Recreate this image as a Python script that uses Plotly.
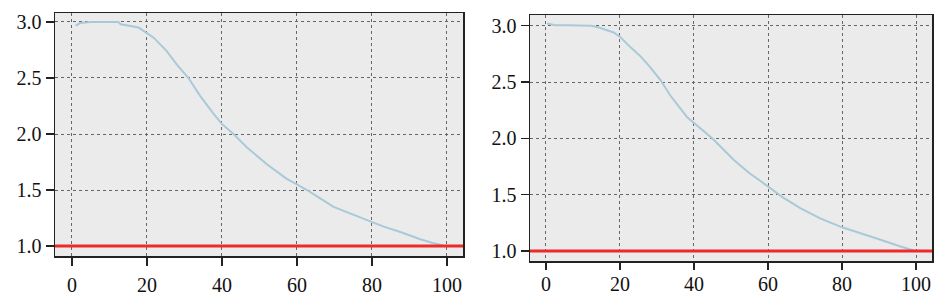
import plotly.graph_objects as go

# ---- data ----
left_x = [1, 2.2, 5, 8, 12.4, 13, 17.8, 20, 21.8, 25.3, 28, 31.1, 34.2, 37.8, 40, 43.1, 46.7,
          52, 57.3, 60, 62.7, 66, 69.8, 75, 79.6, 83, 87.6, 92.9, 96, 99.1]
left_y = [2.967, 2.99, 3.0, 3.0, 3.0, 2.98, 2.95, 2.90, 2.86, 2.74, 2.62, 2.50, 2.34, 2.18, 2.09,
          2.00, 1.88, 1.73, 1.60, 1.55, 1.50, 1.43, 1.35, 1.28, 1.22, 1.175, 1.125, 1.06, 1.03, 1.006]

right_x = [0.3, 2.5, 6, 10, 12.4, 14.7, 18.3, 20.1, 22.8, 25.5, 27.7, 30.9, 33.6, 38.1, 39.9,
           41.7, 44.9, 50.7, 55, 59.7, 63.8, 68.7, 74.1, 80, 86.8, 90.4, 95.8, 99.8]
right_y = [3.02, 3.005, 3.005, 3.005, 3.0, 2.98, 2.94, 2.90, 2.81, 2.73, 2.65, 2.52, 2.38, 2.19,
           2.14, 2.09, 2.00, 1.81, 1.69, 1.58, 1.48, 1.38, 1.29, 1.21, 1.14, 1.10, 1.04, 1.0]

threshold = 1.0
x_ticks = [0, 20, 40, 60, 80, 100]
y_ticks = [1.0, 1.5, 2.0, 2.5, 3.0]
y_tick_labels = ["1.0", "1.5", "2.0", "2.5", "3.0"]

W, H = 937, 296
curve_color = "#a9c9d9"
red = "#ee2a2a"

fig = go.Figure()
fig.add_trace(go.Scatter(x=left_x, y=left_y, mode="lines",
                         line=dict(color=curve_color, width=2), xaxis="x", yaxis="y",
                         showlegend=False, hoverinfo="skip"))
fig.add_trace(go.Scatter(x=right_x, y=right_y, mode="lines",
                         line=dict(color=curve_color, width=2), xaxis="x2", yaxis="y2",
                         showlegend=False, hoverinfo="skip"))

def px_domain_x(a, b):
    return [a / W, b / W]

def px_domain_y(top, bottom):
    return [1 - bottom / H, 1 - top / H]

tickfont = dict(family="Liberation Serif", size=20, color="#111")
common_axis = dict(showline=True, linecolor="#222", linewidth=1.5, mirror=True,
                   ticks="outside", tickwidth=1.5, tickcolor="#222",
                   showgrid=True, gridcolor="#666", gridwidth=1, griddash="3px,3px",
                   zeroline=False, tickfont=tickfont, automargin=False)

fig.update_layout(
    width=W, height=H,
    margin=dict(l=0, r=0, t=0, b=0, pad=0),
    paper_bgcolor="white",
    plot_bgcolor="#ebebeb",
    xaxis=dict(domain=px_domain_x(55, 463), range=[-4.5, 104.3], tickvals=x_ticks,
               anchor="y", ticklen=8, ticklabelstandoff=2, **common_axis),
    yaxis=dict(domain=px_domain_y(13, 256), range=[0.911, 3.08], tickvals=y_ticks,
               ticktext=y_tick_labels, anchor="x", ticklen=8, **common_axis),
    xaxis2=dict(domain=px_domain_x(530, 932), range=[-4.3, 104.3], tickvals=x_ticks,
                anchor="y2", ticklen=7, ticklabelstandoff=-3, **common_axis),
    yaxis2=dict(domain=px_domain_y(15, 261), range=[0.911, 3.095], tickvals=y_ticks,
                ticktext=y_tick_labels, anchor="x2", ticklen=8, **common_axis),
    shapes=[
        dict(type="line", xref="x domain", yref="y", x0=0, x1=1, y0=threshold, y1=threshold,
             line=dict(color=red, width=3)),
        dict(type="line", xref="x2 domain", yref="y2", x0=0, x1=1, y0=threshold, y1=threshold,
             line=dict(color=red, width=3)),
    ],
)

fig.write_html("out.html", config={"displayModeBar": False, "staticPlot": True},
               post_script="document.body.style.margin='0';document.body.style.overflow='hidden';")
